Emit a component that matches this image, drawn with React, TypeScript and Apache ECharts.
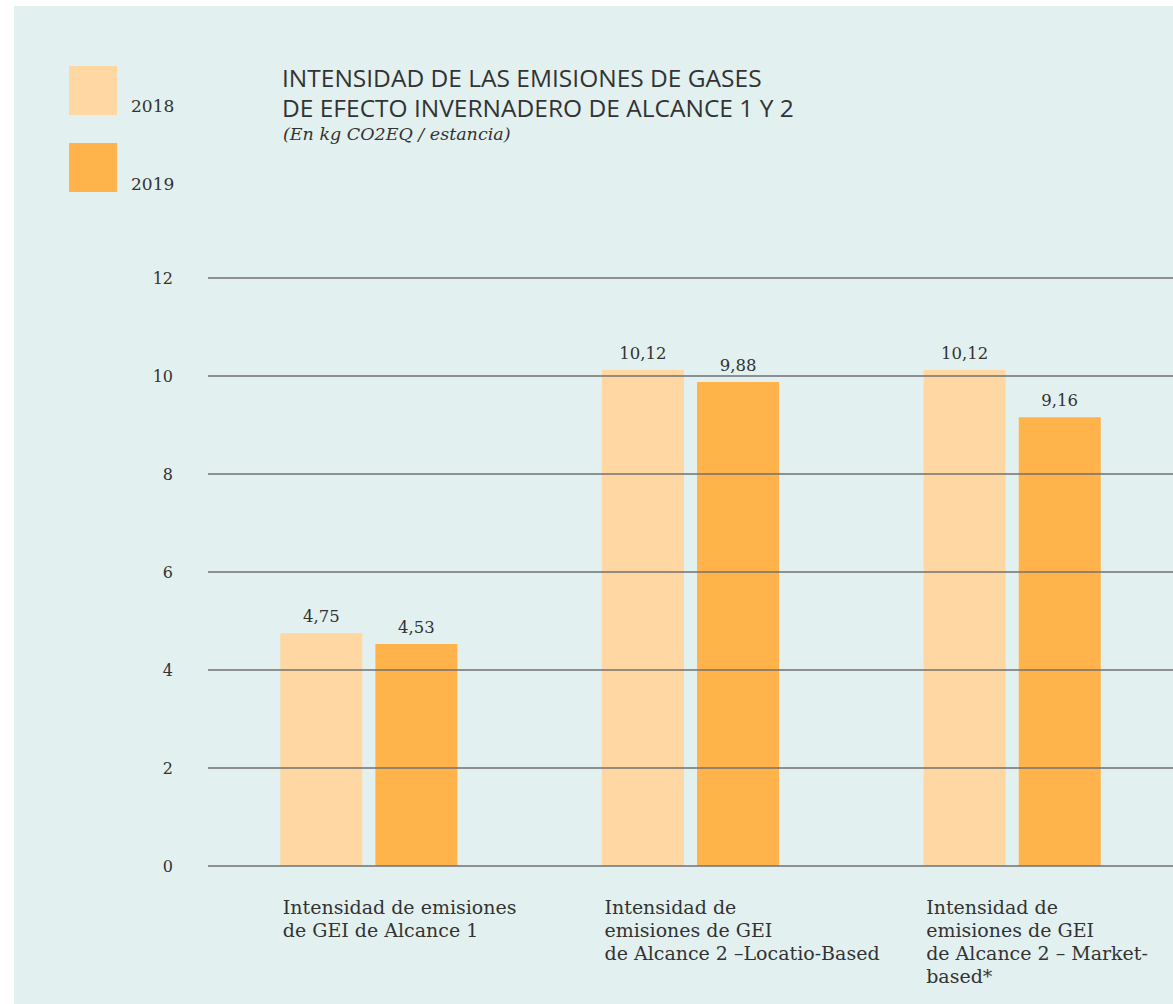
import React, { useEffect, useRef } from "react";
import * as echarts from "echarts";

const categories = [
  "Intensidad de emisiones\nde GEI de Alcance 1",
  "Intensidad de\nemisiones de GEI\nde Alcance 2 –Locatio-Based",
  "Intensidad de\nemisiones de GEI\nde Alcance 2 – Market-\nbased*",
];
const series2018 = [4.75, 10.12, 10.12];
const series2019 = [4.53, 9.88, 9.16];
const seriesNames = ["2018", "2019"];
const yTicks = [0, 2, 4, 6, 8, 10, 12];

const COLOR_2018 = "#fed7a2";
const COLOR_2019 = "#ffb34a";
const SERIF = "'DejaVu Serif', serif";
const SANS = "'Open Sans', Lato, sans-serif";

export default function App() {
  const ref = useRef<HTMLDivElement>(null);
  useEffect(() => {
    if (!ref.current) return;
    const chart = echarts.init(ref.current, null, { renderer: "svg" });
    const fmt = (v: number) => v.toFixed(2).replace(".", ",");
    const valueLabel = {
      show: true,
      position: "top",
      distance: 8,
      color: "#333",
      fontFamily: SERIF,
      fontSize: 16.5,
      formatter: (p: any) => fmt(p.value),
    };
    chart.setOption({
      animation: false,
      backgroundColor: "#ffffff",
      grid: { left: 208, right: 0, top: 278, bottom: 138 },
      xAxis: {
        type: "category",
        data: categories,
        axisLine: { show: false },
        axisTick: { show: false },
        axisLabel: { show: false },
      },
      yAxis: {
        type: "value",
        min: yTicks[0],
        max: yTicks[yTicks.length - 1],
        interval: 2,
        z: 5,
        axisLine: { show: false },
        axisTick: { show: false },
        axisLabel: {
          margin: 35,
          color: "#333",
          fontFamily: SERIF,
          fontSize: 16,
        },
        splitLine: { lineStyle: { color: "#707070", width: 1.5 } },
      },
      series: [
        {
          name: seriesNames[0],
          type: "bar",
          data: series2018,
          barWidth: 82,
          barGap: "16%",
          itemStyle: { color: COLOR_2018 },
          label: valueLabel,
        },
        {
          name: seriesNames[1],
          type: "bar",
          data: series2019,
          barWidth: 82,
          itemStyle: { color: COLOR_2019 },
          label: valueLabel,
        },
      ],
    });

    const catLabels = categories.map((c, i) => {
      const cx = chart.convertToPixel({ xAxisIndex: 0 }, i) as number;
      return {
        type: "text",
        x: cx - 86,
        y: 895,
        z: 10,
        style: {
          text: c,
          fill: "#333",
          font: `19px ${SERIF}`,
          lineHeight: 23,
          align: "left",
          verticalAlign: "top",
        },
      };
    });

    chart.setOption({
      graphic: [
        {
          type: "rect",
          z: -10,
          silent: true,
          shape: { x: 14, y: 6, width: 1173, height: 1004 },
          style: { fill: "#e2f0ef" },
        },
        {
          type: "rect",
          shape: { x: 69, y: 66, width: 48, height: 49 },
          style: { fill: COLOR_2018 },
        },
        {
          type: "rect",
          shape: { x: 69, y: 143, width: 48, height: 49 },
          style: { fill: COLOR_2019 },
        },
        {
          type: "text",
          x: 131,
          y: 97,
          style: { text: seriesNames[0], fill: "#333", font: `17px ${SERIF}` },
        },
        {
          type: "text",
          x: 131,
          y: 175,
          style: { text: seriesNames[1], fill: "#333", font: `17px ${SERIF}` },
        },
        {
          type: "text",
          x: 282,
          y: 62,
          style: {
            text: "INTENSIDAD DE LAS EMISIONES DE GASES\nDE EFECTO INVERNADERO DE ALCANCE 1 Y 2",
            fill: "#333",
            font: `24.5px ${SANS}`,
            lineHeight: 30,
          },
        },
        {
          type: "text",
          x: 283,
          y: 125,
          style: {
            text: "(En kg CO2EQ / estancia)",
            fill: "#333",
            font: `italic 17.5px ${SERIF}`,
          },
        },
        ...catLabels,
      ],
    });
    return () => chart.dispose();
  }, []);
  return (
    <div
      ref={ref}
      style={{ position: "fixed", left: 0, top: 0, width: 1173, height: 1004 }}
    />
  );
}
